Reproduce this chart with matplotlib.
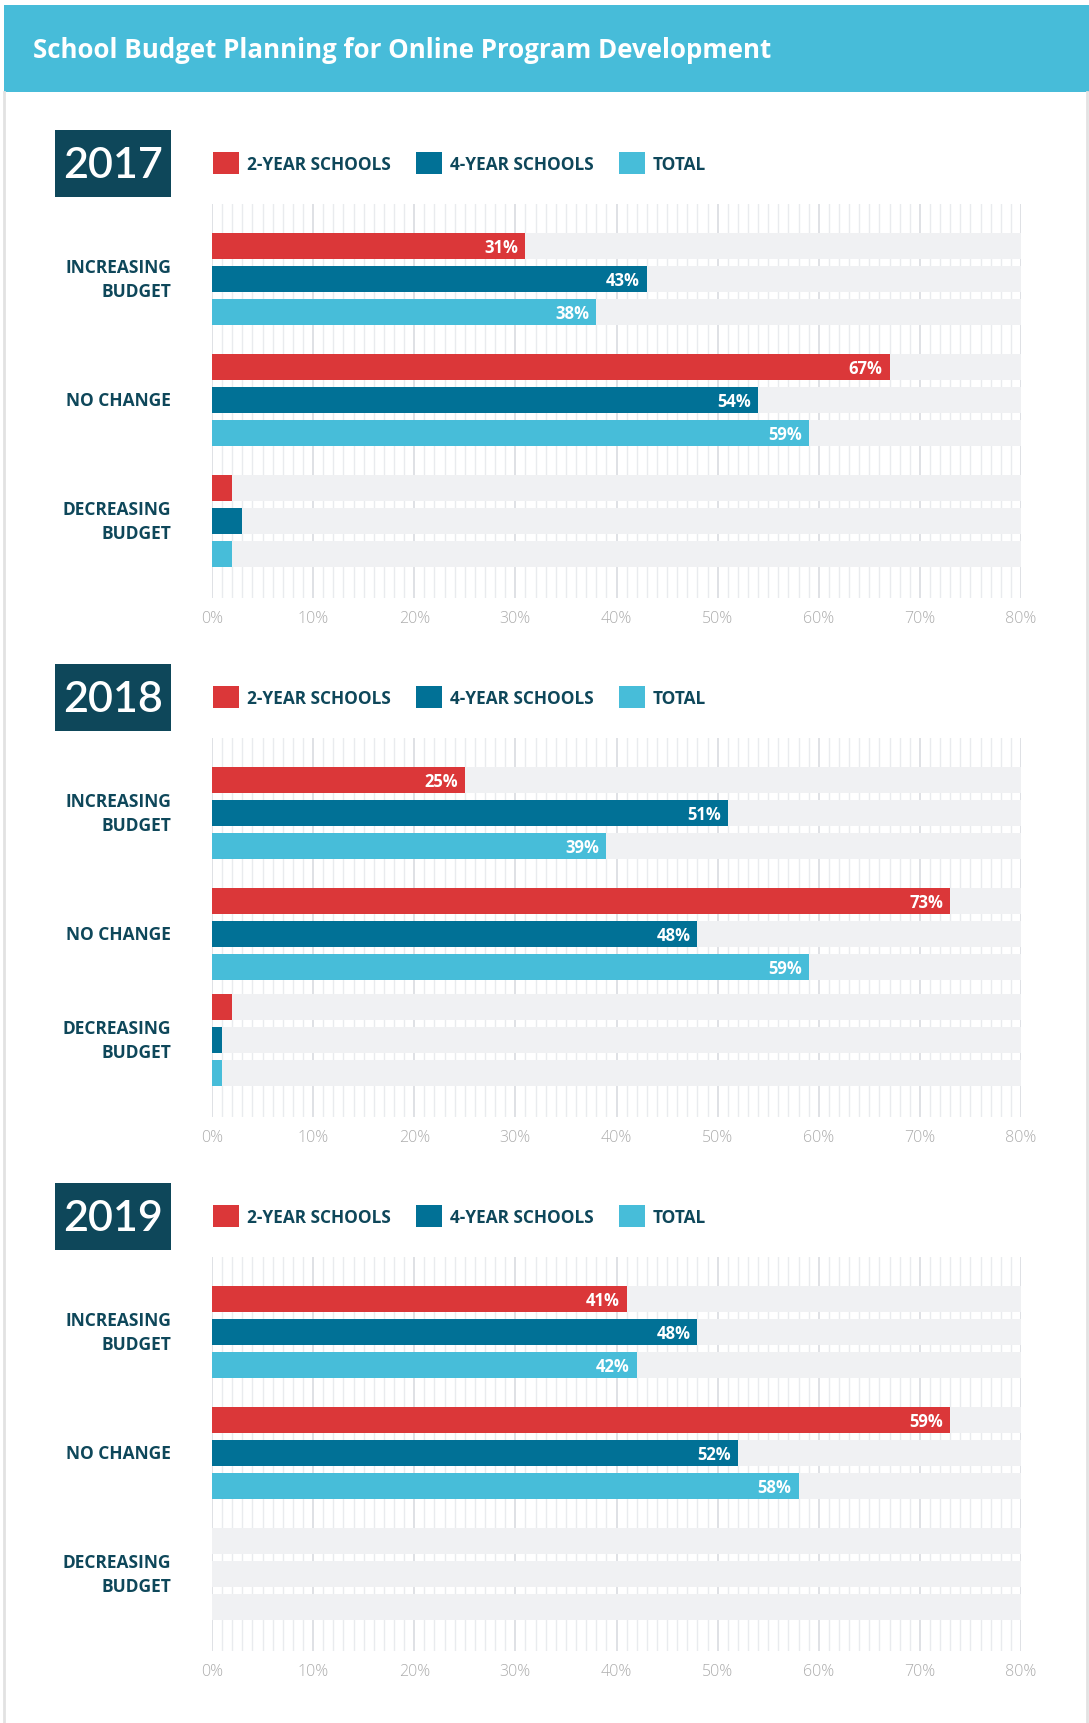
import matplotlib
matplotlib.use("Agg")
import matplotlib.pyplot as plt
from matplotlib.patches import Rectangle, Patch
from matplotlib.lines import Line2D
from matplotlib import transforms

plt.rcParams['font.family'] = ['Open Sans', 'DejaVu Sans']

# ---- data ----
title = "School Budget Planning for Online Program Development"
years = ["2017", "2018", "2019"]
categories = ["INCREASING\nBUDGET", "NO CHANGE", "DECREASING\nBUDGET"]
series = ["2-YEAR SCHOOLS", "4-YEAR SCHOOLS", "TOTAL"]

# bar lengths (%), one list per series: increasing, no change, decreasing
values_2017 = [[31, 67, 2], [43, 54, 3], [38, 59, 2]]
values_2018 = [[25, 73, 2], [51, 48, 1], [39, 59, 1]]
values_2019 = [[41, 73, 0], [48, 52, 0], [42, 58, 0]]

# printed numbers (the 2019 2-year "no change" bar is drawn to 73% but reads 59%)
printed_2017 = values_2017
printed_2018 = values_2018
printed_2019 = [[41, 59, 0], [48, 52, 0], [42, 58, 0]]

tick_values = [0, 10, 20, 30, 40, 50, 60, 70, 80]

all_values = [values_2017, values_2018, values_2019]
all_printed = [printed_2017, printed_2018, printed_2019]

# ---- style ----
colors = ["#db3739", "#017196", "#47bdd9"]
dark = "#0e475a"
header_blue = "#47bcd9"
band_gray = "#f0f1f3"

W, H = 1089, 1724
fig = plt.figure(figsize=(W / 100, H / 100), dpi=100)
fig.patch.set_facecolor("white")


def fx(x):
    return x / W


def fy(y):
    return 1 - y / H


# header band and card border
fig.patches.append(Rectangle((fx(4), fy(93)), fx(1085), 87 / H, transform=fig.transFigure,
                             facecolor=header_blue, edgecolor="none"))
fig.text(fx(33), fy(51), title, color="white", fontsize=18.6, fontweight="bold",
         ha="left", va="center")
for xx in (4, 1087):
    fig.lines.append(Line2D([fx(xx), fx(xx)], [fy(93), 0], transform=fig.transFigure,
                            color="#e2e2e2", lw=2))

# layout in pixels
panel_tops = [131, 665, 1184]
group_offsets = [[0, 121, 242], [0, 121, 227], [0, 121, 242]]
bar_h = 26
bar_pitch = 33
x_left, x_right = 212, 1021

for p, year in enumerate(years):
    top = panel_tops[p]
    grid_top = top + 74
    offs = group_offsets[p]
    last_bottom = 29 + offs[-1] + 2 * bar_pitch + bar_h
    grid_h = last_bottom + 31

    ax = fig.add_axes([fx(x_left), fy(grid_top + grid_h), (x_right - x_left) / W, grid_h / H])
    ax.set_xlim(0, 80)
    ax.set_ylim(grid_h, 0)

    # year box
    fig.patches.append(Rectangle((fx(55), fy(top + 67)), 116 / W, 67 / H,
                                 transform=fig.transFigure, facecolor=dark, edgecolor="none"))
    fig.text(fx(113), fy(top + 35), year, color="white", fontsize=31, family="Lato",
             fontweight="semibold", ha="center", va="center")

    # legend
    handles = [Patch(facecolor=c, edgecolor="none") for c in colors]
    fig.legend(handles, series, loc="center left", bbox_to_anchor=(fx(213), fy(top + 33)),
               ncol=3, frameon=False, borderpad=0, borderaxespad=0,
               handlelength=1.5, handleheight=1.5, handletextpad=0.45, columnspacing=1.5,
               prop={"weight": "bold", "size": 12.4}, labelcolor=dark)

    vals = all_values[p]
    printed = all_printed[p]
    lab_tr = transforms.blended_transform_factory(fig.transFigure, ax.transData)
    for g, cat in enumerate(categories):
        centers = []
        for s in range(len(series)):
            yc = 29 + offs[g] + s * bar_pitch + bar_h / 2
            centers.append(yc)
            ax.barh(yc, 80, height=bar_h, color=band_gray, zorder=1)
            v = vals[s][g]
            if v > 0:
                ax.barh(yc, v, height=bar_h, color=colors[s], zorder=2)
            if printed[s][g] >= 10:
                ax.annotate(f"{printed[s][g]}%", (v, yc), xytext=(-5, -1),
                            textcoords="offset points", ha="right", va="center",
                            color="white", fontsize=12, fontweight="bold", zorder=3)
        ax.text(fx(171), sum(centers) / len(centers), cat, transform=lab_tr,
                ha="right", va="center", multialignment="right", linespacing=1.45,
                color=dark, fontsize=12.5, fontweight="bold")

    ax.set_xticks(tick_values)
    ax.set_xticklabels([f"{t}%" for t in tick_values])
    ax.set_xticks(range(0, 81), minor=True)
    ax.set_yticks([])
    ax.set_axisbelow(True)
    ax.grid(which="minor", axis="x", color="#e9ebee", lw=1)
    ax.grid(which="major", axis="x", color="#d9dce0", lw=1.2)
    ax.tick_params(axis="x", which="both", length=0, pad=8.5, labelsize=11.5,
                   labelcolor="#adadad")
    for lbl in ax.get_xticklabels():
        lbl.set_fontweight("light")
    for sp in ax.spines.values():
        sp.set_visible(False)

fig.savefig("out.png", dpi=100, facecolor="white")
